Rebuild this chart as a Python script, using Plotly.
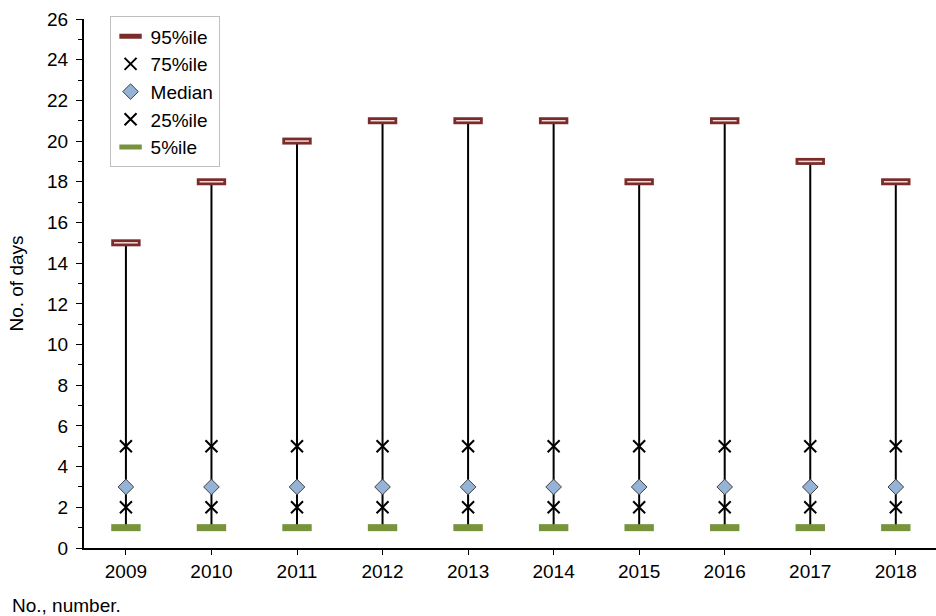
import plotly.graph_objects as go

# Yearly distribution of number of days
years = ["2009", "2010", "2011", "2012", "2013", "2014", "2015", "2016", "2017", "2018"]
p95 = [15, 18, 20, 21, 21, 21, 18, 21, 19, 18]
p75 = [5, 5, 5, 5, 5, 5, 5, 5, 5, 5]
median = [3, 3, 3, 3, 3, 3, 3, 3, 3, 3]
p25 = [2, 2, 2, 2, 2, 2, 2, 2, 2, 2]
p5 = [1, 1, 1, 1, 1, 1, 1, 1, 1, 1]

FONT = "Liberation Sans, Arial, sans-serif"
FS = 19

fig = go.Figure()

# whiskers from 5th to 95th percentile
wx, wy = [], []
for yr, lo, hi in zip(years, p5, p95):
    wx += [yr, yr, None]
    wy += [lo, hi, None]
fig.add_trace(go.Scatter(x=wx, y=wy, mode="lines", line=dict(color="black", width=2),
                         showlegend=False, hoverinfo="skip"))

fig.add_trace(go.Scatter(x=years, y=p95, mode="markers", name="95%ile", legendgroup="a",
                         marker=dict(symbol="line-ew", size=21,
                                     line=dict(color="#7b2c2a", width=7))))
fig.add_trace(go.Scatter(x=years, y=p75, mode="markers", name="75%ile", legendgroup="b",
                         marker=dict(symbol="x-thin", size=12,
                                     line=dict(color="black", width=2))))
fig.add_trace(go.Scatter(x=years, y=median, mode="markers", name="Median", legendgroup="c",
                         marker=dict(symbol="diamond", size=12, color="#95b3d7",
                                     line=dict(color="#404040", width=1))))
fig.add_trace(go.Scatter(x=years, y=p25, mode="markers", name="25%ile", legendgroup="d",
                         marker=dict(symbol="x-thin", size=12,
                                     line=dict(color="black", width=2))))
fig.add_trace(go.Scatter(x=years, y=p5, mode="markers", name="5%ile", legendgroup="e",
                         marker=dict(symbol="line-ew", size=21,
                                     line=dict(color="#77933c", width=7))))
# light inner stripe of the 95th percentile bars
fig.add_trace(go.Scatter(x=years, y=p95, mode="markers", showlegend=False, hoverinfo="skip",
                         marker=dict(symbol="line-ew", size=17,
                                     line=dict(color="#f2dcdb", width=1.5))))

fig.update_layout(
    width=936, height=616,
    margin=dict(l=84, r=0, t=19, b=68),
    paper_bgcolor="white", plot_bgcolor="white",
    font=dict(family=FONT, size=FS, color="black"),
    legend=dict(x=0.03, y=1.005, xanchor="left", yanchor="top",
                bordercolor="#bfbfbf", borderwidth=1, bgcolor="white",
                font=dict(size=FS), tracegroupgap=0, itemwidth=30),
    annotations=[dict(text="No., number.", xref="paper", yref="paper", x=0, y=0,
                      xanchor="left", yanchor="middle", xshift=-74, yshift=-57,
                      showarrow=False, font=dict(size=FS))],
)
fig.update_xaxes(type="category", range=[-0.49, 9.47], showline=True, linecolor="black",
                 linewidth=2, ticks="outside", ticklen=5, tickcolor="black",
                 showgrid=False, zeroline=False)
fig.update_yaxes(range=[0, 26], dtick=2, showline=True, linecolor="black", linewidth=2,
                 ticks="outside", ticklen=6, tickcolor="black", showgrid=False,
                 zeroline=False, ticklabelstandoff=4,
                 minor=dict(dtick=1, ticks="outside", ticklen=4, tickcolor="black"),
                 title=dict(text="No. of days", standoff=18, font=dict(size=FS)))

fig.write_html("out.html")
